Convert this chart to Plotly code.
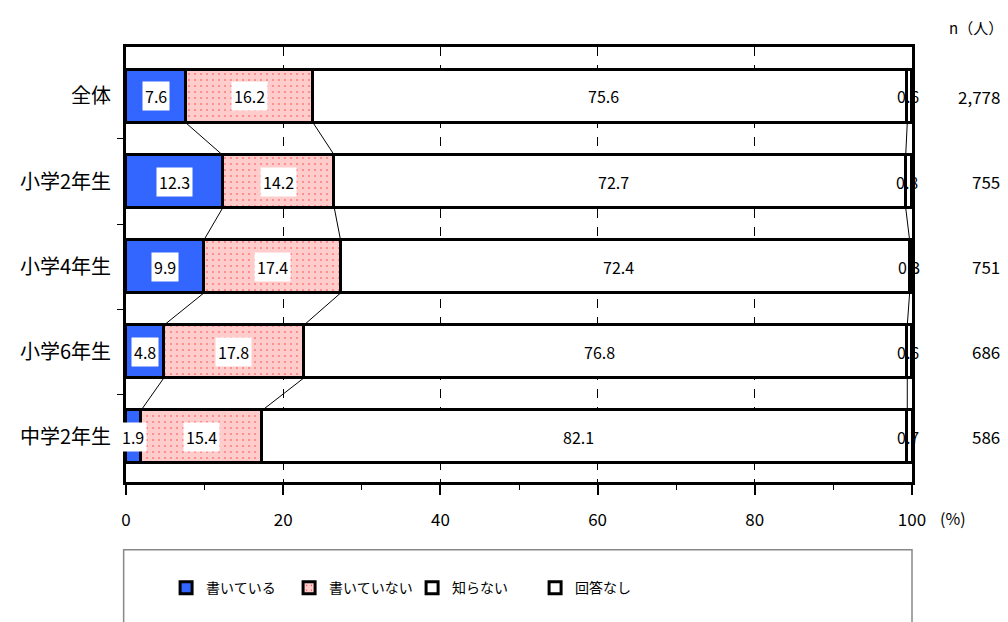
import plotly.graph_objects as go

categories = ["全体", "小学2年生", "小学4年生", "小学6年生", "中学2年生"]
writing = [7.6, 12.3, 9.9, 4.8, 1.9]
not_writing = [16.2, 14.2, 17.4, 17.8, 15.4]
unknown = [75.6, 72.7, 72.4, 76.8, 82.1]
no_answer = [0.6, 0.8, 0.3, 0.6, 0.7]
n_values = ["2,778", "755", "751", "686", "586"]
series_names = ["書いている", "書いていない", "知らない", "回答なし"]
x_ticks = [0, 20, 40, 60, 80, 100]

FONT = "Noto Sans CJK JP"
ypos = list(range(len(categories)))
BW = 0.62

fig = go.Figure()
line = dict(color="black", width=3)
fig.add_trace(go.Bar(y=ypos, x=writing, orientation="h", name=series_names[0],
                     width=BW, marker=dict(color="#3366FF", line=line)))
fig.add_trace(go.Bar(y=ypos, x=not_writing, orientation="h", name=series_names[1],
                     width=BW, marker=dict(color="#FFCCCC", line=line,
                                           pattern=dict(shape=".", fillmode="replace",
                                                        bgcolor="#FFCCCC", fgcolor="#FF3030",
                                                        size=6, solidity=0.05))))
fig.add_trace(go.Bar(y=ypos, x=unknown, orientation="h", name=series_names[2],
                     width=BW, marker=dict(color="white", line=line)))
fig.add_trace(go.Bar(y=ypos, x=no_answer, orientation="h", name=series_names[3],
                     width=BW, marker=dict(color="white", line=line)))

# connector lines
c1 = writing
c2 = [a + b for a, b in zip(writing, not_writing)]
c3 = [a + b + c for a, b, c in zip(writing, not_writing, unknown)]
lx, ly = [], []
for cum in (c1, c2, c3):
    for i in range(len(categories) - 1):
        lx += [cum[i], cum[i + 1], None]
        ly += [i + BW / 2, i + 1 - BW / 2, None]
fig.add_trace(go.Scatter(x=lx, y=ly, mode="lines", line=dict(color="black", width=1),
                         showlegend=False, hoverinfo="skip"))

lab = dict(size=16, family=FONT, color="black")
ann = []
for i in range(len(categories)):
    ann.append(dict(x=writing[i] / 2, y=i, text=f"{writing[i]:.1f}", showarrow=False,
                    bgcolor="white", borderpad=2, font=lab))
    ann.append(dict(x=c1[i] + not_writing[i] / 2, y=i, text=f"{not_writing[i]:.1f}", showarrow=False,
                    bgcolor="white", borderpad=2, font=lab))
    ann.append(dict(x=c2[i] + unknown[i] / 2 - 0.8, y=i, text=f"{unknown[i]:.1f}", showarrow=False,
                    font=lab))
    ann.append(dict(x=c3[i] + no_answer[i] / 2 - 0.2, y=i, text=f"{no_answer[i]:.1f}", showarrow=False,
                    font=lab))
    ann.append(dict(x=1.114, xref="paper", y=i, text=n_values[i], showarrow=False, xanchor="right",
                    font=dict(size=17, family=FONT, color="black")))
ann.append(dict(x=1.118, xref="paper", y=1.044, yref="paper", text="n（人）", showarrow=False,
                xanchor="right", yanchor="middle", font=dict(size=15, family=FONT, color="black")))
ann.append(dict(x=1.052, xref="paper", y=-0.082, yref="paper", text="(%)", showarrow=False,
                xanchor="center", yanchor="middle", font=dict(size=16, family=FONT, color="black")))

fig.update_layout(
    width=1008, height=622,
    margin=dict(l=116, r=104, t=39, b=148),
    paper_bgcolor="white", plot_bgcolor="white",
    barmode="stack", bargap=0,
    font=dict(family=FONT, color="black"),
    annotations=ann,
    shapes=[dict(type="rect", xref="paper", yref="paper", x0=-0.003, x1=1.0, y0=-0.156, y1=-0.5,
                 line=dict(color="#888888", width=1.5), fillcolor="rgba(0,0,0,0)")],
    legend=dict(orientation="h", x=0.051, xanchor="left", y=-0.244, yanchor="middle",
                entrywidth=78, entrywidthmode="pixels", traceorder="normal",
                font=dict(size=14, family=FONT, color="black"), bgcolor="rgba(0,0,0,0)"),
    showlegend=True,
)
fig.update_xaxes(range=[0, 100], tickvals=x_ticks, ticks="outside", ticklen=10, tickwidth=1.5,
                 tickcolor="black", showline=True, linecolor="black", linewidth=3, mirror=True,
                 showgrid=True, gridcolor="black", gridwidth=1, griddash="dash", zeroline=False,
                 ticklabelstandoff=11, tickfont=dict(size=17, family=FONT, color="black"),
                 minor=dict(tickvals=[10, 30, 50, 70, 90], ticks="outside", ticklen=5,
                            tickcolor="black", tickwidth=1, showgrid=False))
fig.update_yaxes(range=[4.53, -0.58], tickvals=ypos, ticktext=categories, ticks="",
                 showline=True, linecolor="black", linewidth=3, mirror=True, showgrid=False,
                 zeroline=False, ticklabelstandoff=8, tickfont=dict(size=20, family=FONT, color="black"),
                 minor=dict(tickvals=[0.5, 1.5, 2.5, 3.5], ticks="outside", ticklen=6,
                            tickcolor="black", tickwidth=1, showgrid=False))

fig.write_html("out.html")
